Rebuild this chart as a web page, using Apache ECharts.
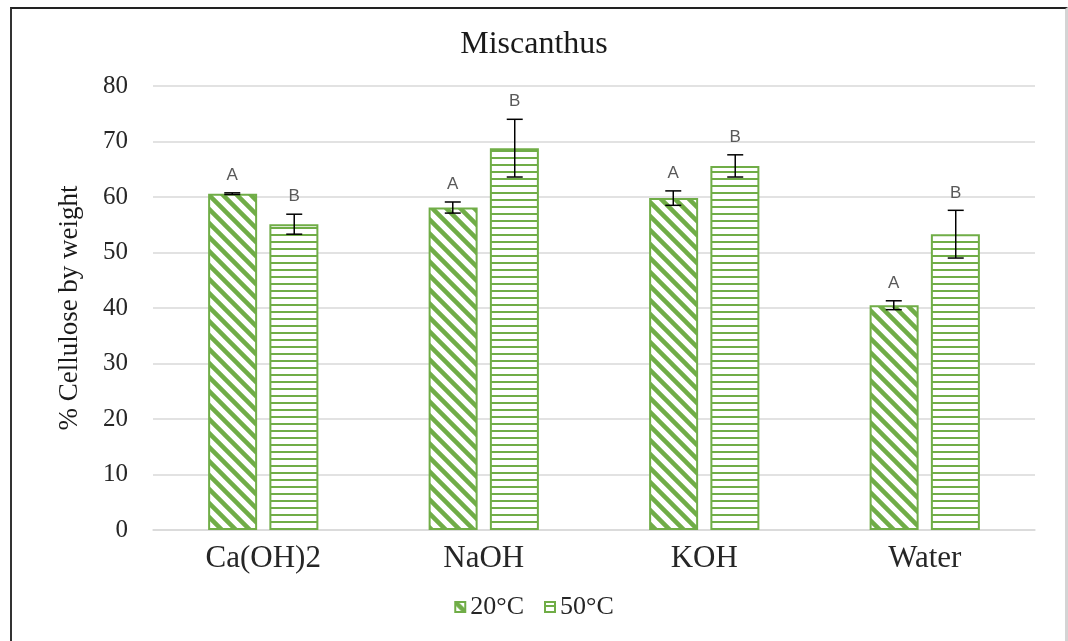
<!DOCTYPE html>
<html>
<head>
<meta charset="utf-8">
<script src="https://cdn.jsdelivr.net/npm/echarts@6/dist/echarts.min.js"></script>
<style>
  html, body { margin: 0; padding: 0; background: #fff; }
  #main { position: absolute; left: 0; top: 0; width: 1068px; height: 641px; }
  #frame {
    position: absolute; left: 10px; top: 7px; width: 1053px; height: 700px;
    border-top: 2px solid #222; border-left: 2px solid #333; border-right: 3px solid #d4d4d4;
    pointer-events: none;
  }
</style>
</head>
<body>
<div id="main"></div>
<div id="frame"></div>
<script>
  // data
  var categories = ['Ca(OH)2', 'NaOH', 'KOH', 'Water'];
  var seriesNames = ['20°C', '50°C'];
  var values20 = [60.6, 58.1, 59.8, 40.5];
  var values50 = [55.1, 68.8, 65.6, 53.3];
  var err20 = [0.15, 1.0, 1.3, 0.8];
  var err50 = [1.8, 5.2, 2.0, 4.3];
  var letters = ['A', 'B'];
  var yTicks = { min: 0, max: 80, interval: 10 };

  var green = '#70AD47';
  var serif = "'Liberation Serif', 'Times New Roman', serif";

  // hatch patterns
  function diagPattern() {
    var s = 14;
    var c = document.createElement('canvas');
    c.width = s; c.height = s;
    var g = c.getContext('2d');
    g.fillStyle = '#fff';
    g.fillRect(0, 0, s, s);
    g.strokeStyle = green;
    g.lineWidth = 4.5;
    g.beginPath();
    g.moveTo(-s / 2, -s / 2); g.lineTo(s * 1.5, s * 1.5);
    g.moveTo(-s / 2, s / 2); g.lineTo(s / 2, s * 1.5);
    g.moveTo(s / 2, -s / 2); g.lineTo(s * 1.5, s / 2);
    g.stroke();
    return c;
  }
  function horizPattern() {
    var c = document.createElement('canvas');
    c.width = 8; c.height = 7;
    var g = c.getContext('2d');
    g.fillStyle = '#fff';
    g.fillRect(0, 0, 8, 7);
    g.fillStyle = green;
    g.fillRect(0, 3, 8, 2);
    return c;
  }

  var chart = echarts.init(document.getElementById('main'));

  function errData(vals, errs) {
    return vals.map(function (v, i) { return [i, v, errs[i]]; });
  }

  function errorBars(sign, letter) {
    return function (params, api) {
      var idx = api.value(0), val = api.value(1), err = api.value(2);
      var band = api.size([1, 0])[0];
      var top = api.coord([idx, val + err]);
      var bot = api.coord([idx, val - err]);
      var x = top[0] + sign * band * 0.1405;
      var cap = 8;
      var st = { stroke: '#000', lineWidth: 1.5 };
      return {
        type: 'group',
        children: [
          { type: 'line', shape: { x1: x, y1: top[1], x2: x, y2: bot[1] }, style: st },
          { type: 'line', shape: { x1: x - cap, y1: top[1], x2: x + cap, y2: top[1] }, style: st },
          { type: 'line', shape: { x1: x - cap, y1: bot[1], x2: x + cap, y2: bot[1] }, style: st },
          { type: 'text', style: { text: letter, x: x, y: top[1] - 9, align: 'center', verticalAlign: 'bottom',
            font: "17px 'Liberation Sans', Arial, sans-serif", fill: '#595959' } }
        ]
      };
    };
  }

  chart.setOption({
    animation: false,
    backgroundColor: 'transparent',
    title: {
      text: 'Miscanthus',
      left: 'center',
      top: 24,
      textStyle: { fontFamily: serif, fontSize: 32, fontWeight: 'normal', color: '#1a1a1a' }
    },
    legend: {
      data: seriesNames,
      bottom: 16,
      left: 'center',
      icon: 'rect',
      itemWidth: 10,
      itemHeight: 10,
      itemGap: 20,
      textStyle: { fontFamily: serif, fontSize: 26, color: '#262626' }
    },
    grid: { left: 153, right: 33, top: 86, bottom: 111 },
    xAxis: {
      type: 'category',
      data: categories,
      axisLine: { lineStyle: { color: '#d9d9d9', width: 1.5 } },
      axisTick: { show: false },
      axisLabel: { fontFamily: serif, fontSize: 31, color: '#262626', margin: 13 }
    },
    yAxis: {
      type: 'value',
      min: yTicks.min,
      max: yTicks.max,
      interval: yTicks.interval,
      name: '% Cellulose by weight',
      nameLocation: 'middle',
      nameRotate: 90,
      nameGap: 70,
      nameTextStyle: { fontFamily: serif, fontSize: 27, color: '#1a1a1a' },
      axisLine: { show: false },
      axisTick: { show: false },
      splitLine: { lineStyle: { color: '#d9d9d9', width: 1.5 } },
      axisLabel: { fontFamily: serif, fontSize: 25, color: '#262626', margin: 25 }
    },
    series: [
      {
        name: seriesNames[0],
        type: 'bar',
        data: values20,
        barWidth: 49,
        barGap: '25%',
        itemStyle: { color: { image: diagPattern(), repeat: 'repeat' }, borderColor: green, borderWidth: 2 }
      },
      {
        name: seriesNames[1],
        type: 'bar',
        data: values50,
        barWidth: 49,
        itemStyle: { color: { image: horizPattern(), repeat: 'repeat' }, borderColor: green, borderWidth: 2 }
      },
      {
        type: 'custom',
        data: errData(values20, err20),
        renderItem: errorBars(-1, letters[0]),
        z: 10
      },
      {
        type: 'custom',
        data: errData(values50, err50),
        renderItem: errorBars(1, letters[1]),
        z: 10
      }
    ]
  });
</script>
</body>
</html>
